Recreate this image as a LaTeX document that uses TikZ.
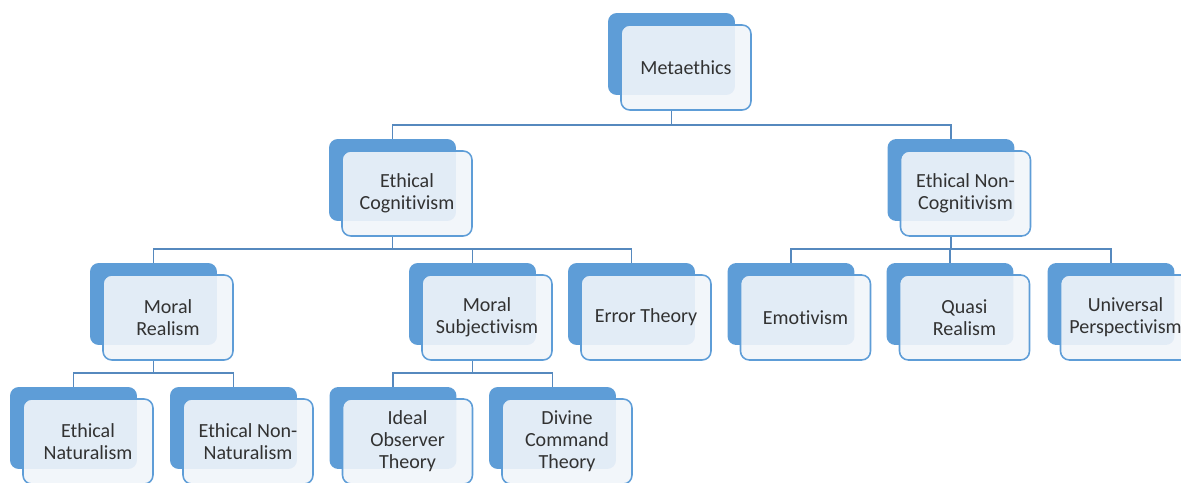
\documentclass[tikz,border=0pt]{standalone}
\usepackage{fontspec}
\setmainfont{Carlito}[Ligatures={NoCommon}]
\usetikzlibrary{positioning,calc}
\definecolor{boxblue}{RGB}{94,157,215}
\definecolor{linkblue}{RGB}{86,137,190}
\definecolor{facefill}{RGB}{241,245,250}
\definecolor{txtgray}{RGB}{50,50,50}

\begin{document}
\begin{tikzpicture}[x=0.02cm,y=-0.02cm,
	backbox/.style={fill=boxblue,rounded corners=5pt,minimum width=2.54cm,minimum height=1.64cm,inner sep=0pt},
	facebox/.style={draw=boxblue,line width=.9pt,fill=facefill,fill opacity=.9,text opacity=1,rounded corners=5pt,
		minimum width=2.6cm,minimum height=1.7cm,inner sep=0pt,align=center,text=txtgray,
		font=\fontsize{11.4}{12.6}\selectfont},
	link/.style={draw=linkblue,line width=1.1pt}]
	\useasboundingbox (0,0) rectangle (1181,483);
	% boxes: a blue card behind, a light card with the text in front
	\foreach \name/\x/\y/\txt in {meta/671.5/54/Metaethics,
		cog/392.5/180/{Ethical\\Cognitivism}, noncog/951/180/{Ethical Non-\\Cognitivism},
		realism/153.5/304/{Moral\\Realism}, subj/472.5/304/{Moral\\Subjectivism},
		error/631.5/304/{Error Theory}, emot/791/304/Emotivism,
		quasi/950/304/{Quasi\\Realism}, universal/1111/304/{Universal\\Perspectivism},
		natural/73.5/428/{Ethical\\Naturalism}, nonnatural/233.5/428/{Ethical Non-\\Naturalism},
		ideal/393/428/{Ideal\\Observer\\Theory}, divine/552.5/428/{Divine\\Command\\Theory}}
	{
		\node[backbox] (\name-b) at (\x,\y) {};
		\node[facebox] (\name) at ([shift={(14.5,13.5)}]\name-b.center) {\txt};
	}
	% tree lines
	\foreach \up/\down in {meta/cog,meta/noncog,cog/realism,cog/subj,cog/error,
		noncog/emot,noncog/quasi,noncog/universal,realism/natural,realism/nonnatural,
		subj/ideal,subj/divine}
		\draw[link] (\down-b.north) -- ++(0,-13.5) -| (\up-b.center |- \up.south);
\end{tikzpicture}
\end{document}
